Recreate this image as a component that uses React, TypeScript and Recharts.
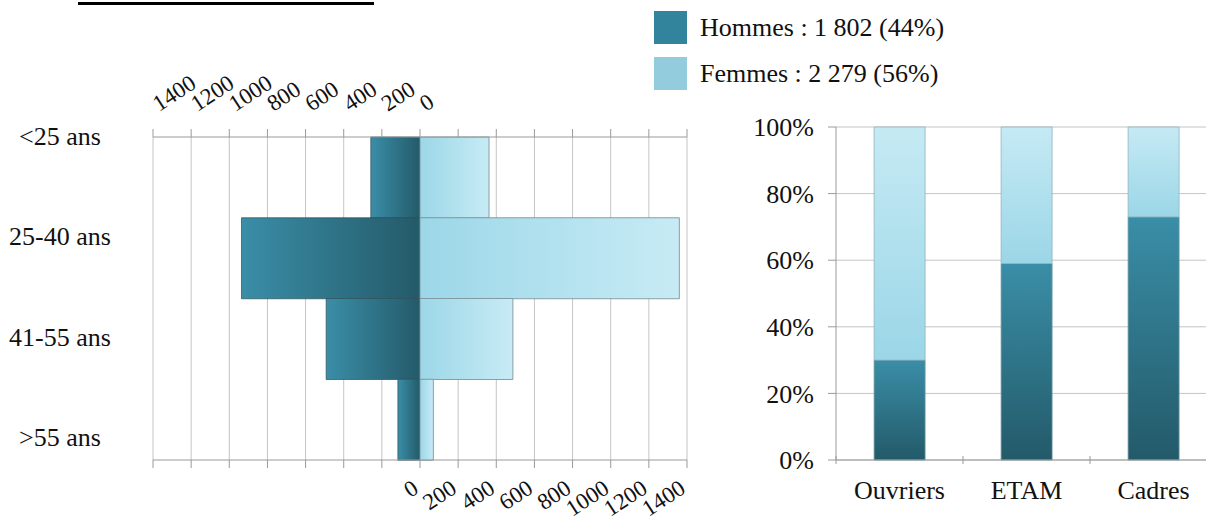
import {
  BarChart,
  Bar,
  XAxis,
  YAxis,
  CartesianGrid,
} from "recharts"

// pyramide des âges
const ageGroups = ["<25 ans", "25-40 ans", "41-55 ans", ">55 ans"]
const hommesParAge = [258, 936, 492, 116]
const femmesParAge = [362, 1360, 487, 70]
const pyramidTicks = [-1400, -1200, -1000, -800, -600, -400, -200, 0, 200, 400, 600, 800, 1000, 1200, 1400]

// répartition par catégorie (%)
const categories = ["Ouvriers", "ETAM", "Cadres"]
const hommesPct = [30, 59, 73]
const femmesPct = [70, 41, 27]
const pctTicks = [0, 20, 40, 60, 80, 100]

const FONT = '"Liberation Serif", "Times New Roman", serif'
const GRID = "#c4c4c4"
const AXIS = "#9a9a9a"
const ROT = -33

const pyramidData = ageGroups.map((age, i) => ({
  age,
  hommes: -hommesParAge[i],
  femmes: femmesParAge[i],
}))

const catData = categories.map((cat, i) => ({
  cat,
  hommes: hommesPct[i],
  femmes: femmesPct[i],
}))

const sum = (a: number[]) => a.reduce((s, v) => s + v, 0)
const totalH = sum(hommesParAge)
const totalF = sum(femmesParAge)
const fmt = (n: number) => n.toString().replace(/\B(?=(\d{3})+(?!\d))/g, " ")
const pct = (n: number) => Math.round((n / (totalH + totalF)) * 100)

// axe du haut : seulement le côté hommes est libellé
const TopTick = (props: any) => {
  const { x, y, payload } = props
  if (payload.value > 0) return <g />
  const tx = x + 6
  const ty = y - 17
  return (
    <text x={tx} y={ty} transform={`rotate(${ROT}, ${tx}, ${ty})`} textAnchor="start" fontSize={23} fontFamily={FONT} fill="#111">
      {Math.abs(payload.value)}
    </text>
  )
}

// axe du bas : seulement le côté femmes
const BottomTick = (props: any) => {
  const { x, y, payload } = props
  if (payload.value < 0) return <g />
  const ty = y + 24
  return (
    <text x={x} y={ty} transform={`rotate(${ROT}, ${x}, ${ty})`} textAnchor="end" fontSize={23} fontFamily={FONT} fill="#111">
      {payload.value}
    </text>
  )
}

// les libellés d'âge sont étalés un peu plus que les bandes
const AgeTick = (props: any) => {
  const { y, payload, index } = props
  const ly = y + (index - 1.5) * 19.5 - 12
  return (
    <text x={60} y={ly} dy="0.35em" textAnchor="middle" fontSize={26} fontFamily={FONT} fill="#111">
      {payload.value}
    </text>
  )
}

const CAT_PLOT_W = 381
const CatTick = (props: any) => {
  const { x, y, payload } = props
  const band = CAT_PLOT_W / categories.length
  return (
    <g>
      <line x1={x - band / 2} x2={x - band / 2} y1={y - 12} y2={y - 4} stroke={AXIS} />
      <text x={x} y={y + 22} dy="0.35em" textAnchor="middle" fontSize={26} fontFamily={FONT} fill="#111">
        {payload.value}
      </text>
    </g>
  )
}

function Pyramide() {
  return (
    <BarChart
      width={720}
      height={518}
      data={pyramidData}
      layout="vertical"
      stackOffset="sign"
      barCategoryGap={0}
      margin={{ top: 0, right: 33, left: 0, bottom: 0 }}
    >
      <defs>
        <linearGradient id="gH" x1="0" y1="0" x2="1" y2="0">
          <stop offset="0%" stopColor="#3a8ea7" />
          <stop offset="100%" stopColor="#245a69" />
        </linearGradient>
        <linearGradient id="gF" x1="0" y1="0" x2="1" y2="0">
          <stop offset="0%" stopColor="#9cd7e8" />
          <stop offset="100%" stopColor="#c7ebf5" />
        </linearGradient>
      </defs>
      <CartesianGrid horizontal={false} stroke={GRID} xAxisId="bottom" />
      <XAxis
        xAxisId="top"
        orientation="top"
        type="number"
        domain={[-1400, 1400]}
        ticks={pyramidTicks}
        interval={0}
        height={137}
        tickSize={8}
        tickMargin={0}
        stroke={AXIS}
        tick={<TopTick />}
        allowDataOverflow
      />
      <XAxis
        xAxisId="bottom"
        orientation="bottom"
        type="number"
        domain={[-1400, 1400]}
        ticks={pyramidTicks}
        interval={0}
        height={58}
        tickSize={8}
        tickMargin={0}
        stroke={AXIS}
        tick={<BottomTick />}
        allowDataOverflow
      />
      <YAxis type="category" dataKey="age" width={153} axisLine={false} tickLine={false} tick={<AgeTick />} />
      <Bar dataKey="hommes" stackId="p" xAxisId="bottom" fill="url(#gH)" stroke="#2e4f58" strokeOpacity={0.7} isAnimationActive={false} />
      <Bar dataKey="femmes" stackId="p" xAxisId="bottom" fill="url(#gF)" stroke="#7f959c" strokeOpacity={0.9} isAnimationActive={false} />
    </BarChart>
  )
}

function Categories() {
  return (
    <BarChart
      width={477}
      height={418}
      data={catData}
      barCategoryGap="30%"
      margin={{ top: 27, right: 0, left: 0, bottom: 0 }}
    >
      <defs>
        <linearGradient id="gHv" x1="0" y1="0" x2="0" y2="1">
          <stop offset="0%" stopColor="#3a8ea7" />
          <stop offset="100%" stopColor="#235a69" />
        </linearGradient>
        <linearGradient id="gFv" x1="0" y1="0" x2="0" y2="1">
          <stop offset="0%" stopColor="#c5eaf4" />
          <stop offset="100%" stopColor="#9bd6e7" />
        </linearGradient>
      </defs>
      <CartesianGrid vertical={false} stroke={GRID} />
      <XAxis dataKey="cat" height={58} stroke={AXIS} tickLine={false} tick={<CatTick />} />
      <YAxis
        type="number"
        domain={[0, 100]}
        ticks={pctTicks}
        width={96}
        tickSize={8}
        tickMargin={14}
        stroke={AXIS}
        tickFormatter={(v: number) => `${v}%`}
        tick={{ fontSize: 26, fontFamily: FONT, fill: "#111" }}
      />
      <Bar dataKey="hommes" stackId="c" fill="url(#gHv)" stroke="#6e98a4" strokeOpacity={0.8} isAnimationActive={false} />
      <Bar dataKey="femmes" stackId="c" fill="url(#gFv)" stroke="#8fb3bd" strokeOpacity={0.8} isAnimationActive={false} />
    </BarChart>
  )
}

export default function App() {
  const legend = [
    { color: "#31849b", text: `Hommes : ${fmt(totalH)} (${pct(totalH)}%)`, top: 11 },
    { color: "#93cddd", text: `Femmes : ${fmt(totalF)} (${pct(totalF)}%)`, top: 57 },
  ]
  return (
    <div style={{ position: "absolute", left: 0, top: 0, width: 1206, height: 518, overflow: "hidden", background: "#fff", fontFamily: FONT }}>
      <div style={{ position: "absolute", left: 78, top: 2, width: 296, height: 3, background: "#000" }} />
      <div style={{ position: "absolute", left: 0, top: 0 }}>
        <Pyramide />
      </div>
      <div style={{ position: "absolute", left: 740, top: 100 }}>
        <Categories />
      </div>
      {legend.map((l) => (
        <div key={l.text} style={{ position: "absolute", left: 654, top: l.top, display: "flex", alignItems: "center", height: 33 }}>
          <div style={{ width: 33, height: 33, background: l.color }} />
          <span style={{ marginLeft: 13, fontSize: 26, color: "#111", whiteSpace: "nowrap" }}>{l.text}</span>
        </div>
      ))}
    </div>
  )
}
